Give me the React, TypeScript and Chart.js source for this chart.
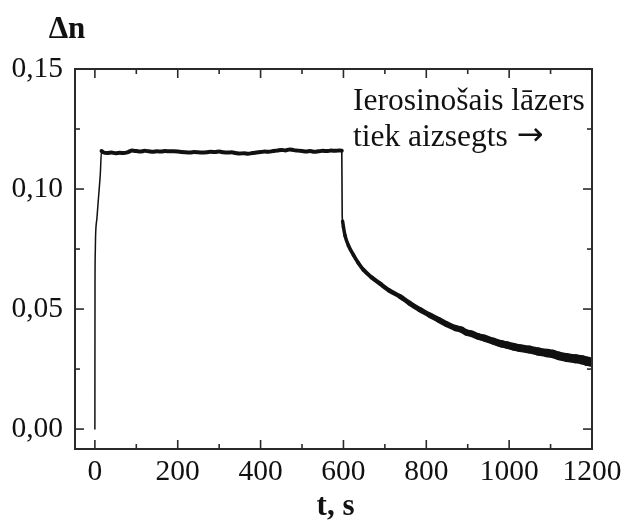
import { useEffect, useRef } from "react";
import { Chart, registerables } from "chart.js";

Chart.register(...registerables);

// Rise after the laser is switched on
const riseT = [0, 0.3, 1.0, 1.6, 5, 9, 13, 16, 20];
const riseN = [0, 0.06, 0.074, 0.08, 0.088, 0.097, 0.106, 0.1158, 0.1153];

// Plateau while the laser is on
const plateauT = [30, 40, 50, 60, 70, 80, 90, 100, 110, 120, 130, 140, 150, 160, 170, 180, 190, 200, 210, 220, 230, 240, 250, 260, 270, 280, 290, 300, 310, 320, 330, 340, 350, 360, 370, 380, 390, 400, 410, 420, 430, 440, 450, 460, 470, 480, 490, 500, 510, 520, 530, 540, 550, 560, 570, 580, 590, 596];
const plateauN = [0.115, 0.1152, 0.1149, 0.1151, 0.115, 0.1154, 0.116, 0.1158, 0.1156, 0.1159, 0.1157, 0.1155, 0.1157, 0.1156, 0.1158, 0.1157, 0.1157, 0.1156, 0.1154, 0.1153, 0.1152, 0.1154, 0.1153, 0.1152, 0.1153, 0.1155, 0.1154, 0.1156, 0.1153, 0.1152, 0.1153, 0.115, 0.1148, 0.1149, 0.1147, 0.115, 0.1152, 0.1154, 0.1156, 0.1155, 0.1158, 0.116, 0.1163, 0.1161, 0.1165, 0.1162, 0.116, 0.1158, 0.1156, 0.1158, 0.1155, 0.1157, 0.1159, 0.1158, 0.116, 0.1159, 0.1161, 0.116];

// Decay after the laser is blocked
const decayT = [597, 598, 600, 604, 612, 624, 636, 648, 668, 688, 710, 736, 760, 785, 810, 830, 849, 870, 885, 897, 910, 925, 940, 962, 980, 995, 1010, 1026, 1050, 1070, 1091, 1105, 1120, 1139, 1160, 1175, 1187, 1200];
const decayN = [0.0893, 0.0866, 0.0842, 0.0805, 0.0765, 0.0726, 0.0692, 0.0664, 0.0632, 0.0606, 0.0578, 0.0553, 0.0524, 0.0497, 0.0473, 0.0455, 0.0437, 0.0421, 0.0414, 0.0402, 0.0397, 0.0386, 0.0379, 0.0366, 0.0356, 0.035, 0.0343, 0.0337, 0.0331, 0.0323, 0.0317, 0.0313, 0.0305, 0.0298, 0.0293, 0.0289, 0.0283, 0.0279];

const xMajorTicks = [0, 200, 400, 600, 800, 1000, 1200];
const xMinorTicks = [100, 300, 500, 700, 900, 1100];
const yMajorTicks = [0, 0.05, 0.1, 0.15];
const yMinorTicks = [0.025, 0.075, 0.125];

const yTitle = "Δn";
const xTitle = "t, s";
const noteLines = ["Ierosinošais lāzers", "tiek aizsegts"];
const noteArrow = "→";

const SERIF = "'Liberation Serif', 'Times New Roman', serif";

export default function App() {
  const ref = useRef<HTMLCanvasElement | null>(null);

  useEffect(() => {
    if (!ref.current) return;
    const pts = [
      ...riseT.map((t, i) => ({ x: t, y: riseN[i] })),
      ...plateauT.map((t, i) => ({ x: t, y: plateauN[i] })),
      ...decayT.map((t, i) => ({ x: t, y: decayN[i] })),
    ];

    const framePlugin = {
      id: "frame",
      afterDatasetsDraw(chart: any) {
        const { ctx, chartArea } = chart;
        const { left, right, top, bottom } = chartArea;
        const xs = chart.scales.x;
        const ys = chart.scales.y;
        ctx.save();
        ctx.strokeStyle = "#2a2a2a";
        ctx.lineWidth = 2;
        ctx.strokeRect(left, top, right - left, bottom - top);
        ctx.lineWidth = 1.6;
        const tick = (x1: number, y1: number, x2: number, y2: number) => {
          ctx.beginPath();
          ctx.moveTo(x1, y1);
          ctx.lineTo(x2, y2);
          ctx.stroke();
        };
        const xt = (vals: number[], len: number) =>
          vals.forEach((v) => {
            const p = xs.getPixelForValue(v);
            tick(p, bottom, p, bottom - len);
            tick(p, top, p, top + len);
          });
        const yt = (vals: number[], len: number) =>
          vals.forEach((v) => {
            const p = ys.getPixelForValue(v);
            tick(left, p, left + len, p);
            tick(right, p, right - len, p);
          });
        xt(xMajorTicks, 9);
        xt(xMinorTicks, 5);
        yt(yMajorTicks, 9);
        yt(yMinorTicks, 5);
        ctx.restore();
      },
      afterDraw(chart: any) {
        const { ctx, chartArea } = chart;
        const xs = chart.scales.x;
        const ys = chart.scales.y;
        ctx.save();
        ctx.fillStyle = "#111";
        ctx.textBaseline = "alphabetic";
        ctx.textAlign = "center";
        ctx.font = `bold 31px ${SERIF}`;
        ctx.fillText(yTitle, chartArea.left - 8, chartArea.top - 31);
        ctx.fillText(xTitle, (chartArea.left + chartArea.right) / 2 + 2, chartArea.bottom + 66);
        ctx.textAlign = "left";
        ctx.font = `31.5px ${SERIF}`;
        const ax = xs.getPixelForValue(623);
        const y1 = ys.getPixelForValue(0.133);
        const y2 = ys.getPixelForValue(0.1178);
        ctx.fillText(noteLines[0], ax, y1);
        ctx.fillText(noteLines[1], ax, y2);
        const w = ctx.measureText(noteLines[1] + " ").width;
        ctx.font = `32px 'DejaVu Sans', sans-serif`;
        ctx.fillText(noteArrow, ax + w + 1, y2 - 1);
        ctx.restore();
      },
    };

    const chart = new Chart(ref.current, {
      type: "line",
      data: {
        datasets: [
          {
            data: pts,
            borderColor: "#111",
            pointRadius: 0,
            cubicInterpolationMode: "monotone",
            borderCapStyle: "round",
            borderJoinStyle: "round",
            borderWidth: 3,
            segment: {
              borderWidth: (c: any) => {
                const t0 = c.p0.parsed.x;
                const t1 = c.p1.parsed.x;
                if (t1 <= 16) return 1.5;
                if (t0 >= 596 && t1 <= 598) return 1.6;
                if (t0 < 596) return 4;
                return 3.5 + ((t0 - 600) / 600) * 6;
              },
            },
          } as any,
        ],
      },
      options: {
        responsive: false,
        animation: false,
        layout: { padding: { top: 69, right: 33, left: 0, bottom: 0 } },
        plugins: { legend: { display: false }, tooltip: { enabled: false } },
        scales: {
          x: {
            type: "linear",
            min: -48,
            max: 1200,
            grid: { display: false, drawTicks: false },
            border: { display: false },
            afterBuildTicks: (s: any) => {
              s.ticks = xMajorTicks.map((v) => ({ value: v }));
            },
            afterFit: (s: any) => {
              s.height = 72;
              s.paddingLeft = 0;
              s.paddingRight = 0;
            },
            ticks: {
              padding: 6,
              maxRotation: 0,
              autoSkip: false,
              color: "#111",
              font: { family: SERIF, size: 29.5 },
              callback: (v: any) => String(v),
            },
          },
          y: {
            type: "linear",
            min: -0.0083,
            max: 0.15,
            grid: { display: false, drawTicks: false },
            border: { display: false },
            afterBuildTicks: (s: any) => {
              s.ticks = yMajorTicks.map((v) => ({ value: v }));
            },
            afterFit: (s: any) => {
              s.width = 75;
              s.paddingTop = 0;
              s.paddingBottom = 0;
            },
            ticks: {
              padding: 12,
              color: "#111",
              font: { family: SERIF, size: 29.5 },
              callback: (v: any) => Number(v).toFixed(2).replace(".", ","),
            },
          },
        },
      },
      plugins: [framePlugin],
    });
    return () => chart.destroy();
  }, []);

  return (
    <div style={{ position: "absolute", left: 0, top: 0, width: 625, height: 521, background: "#fff" }}>
      <canvas ref={ref} width={625} height={521} />
    </div>
  );
}
